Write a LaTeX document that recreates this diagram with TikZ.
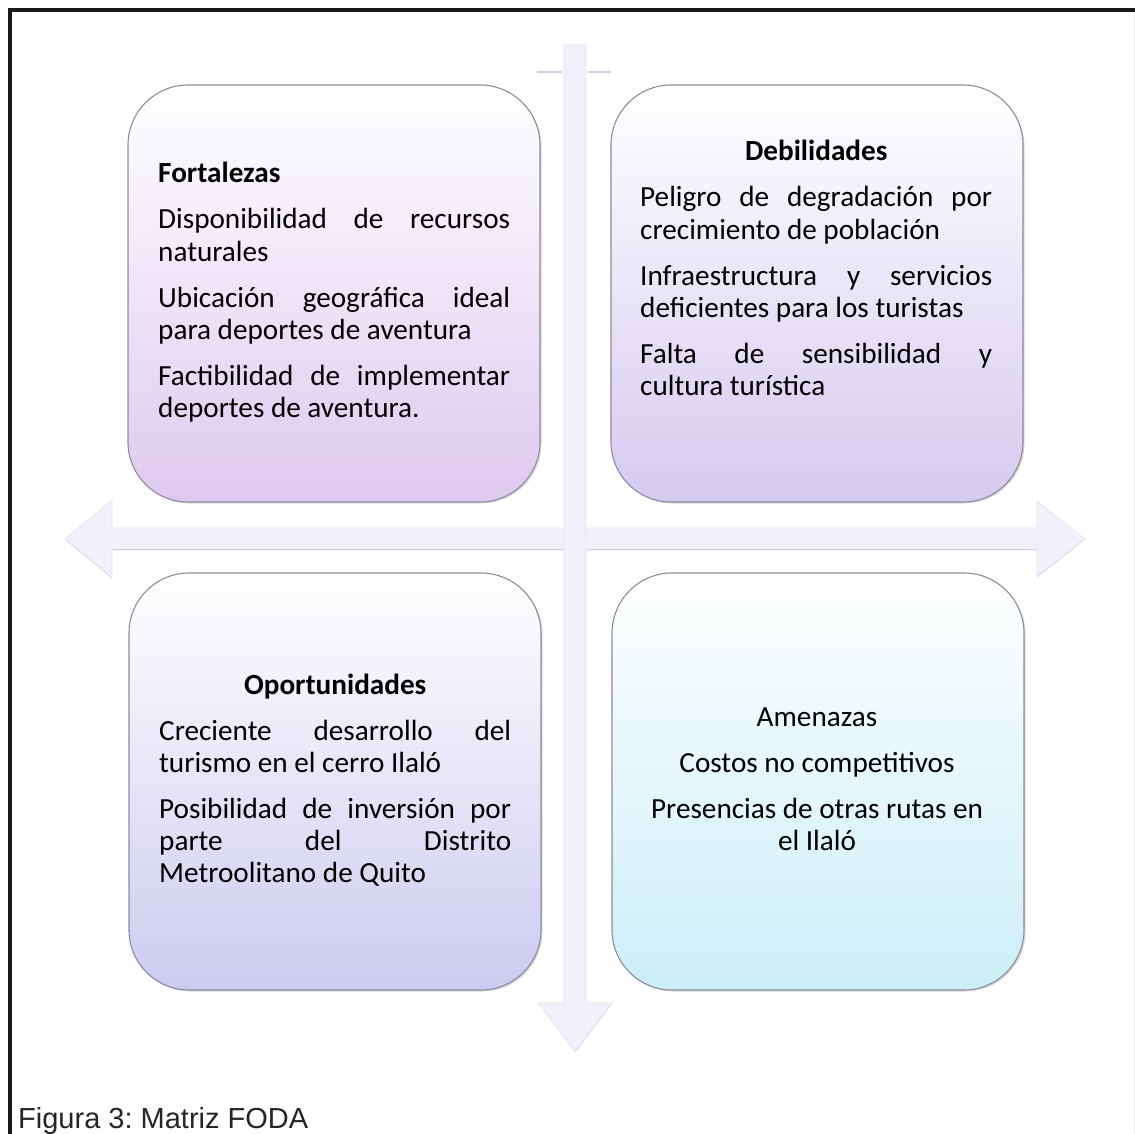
\documentclass[tikz,border=0pt]{standalone}
\usepackage{fontspec}
\setmainfont{Carlito}
\newfontfamily\capfont{Liberation Sans}
\usetikzlibrary{shadows}
\definecolor{arrowfill}{HTML}{F2F0FA}
\definecolor{arrowedge}{HTML}{E6E3F2}
\definecolor{arrowshadow}{HTML}{D2CEE4}
\definecolor{boxline}{HTML}{8C8C9C}
\definecolor{fbot}{HTML}{DEC9F0}
\definecolor{dbot}{HTML}{D5CAF0}
\definecolor{obot}{HTML}{CDCBF0}
\definecolor{abot}{HTML}{CBEEF8}
\newcommand\bsetup{\setlength{\parskip}{13.7pt}\hyphenpenalty=10000 \tolerance=10000 }
\frenchspacing
\begin{document}
\begin{tikzpicture}[x=1pt,y=-1pt,
  quad/.style={draw=boxline, line width=1.1pt, rounded corners=60pt,
    minimum width=412pt, minimum height=417pt, inner sep=0pt,
    drop shadow={shadow xshift=1.5pt, shadow yshift=-1.5pt, opacity=0.3}},
  body/.style={text width=352pt, inner sep=0pt, anchor=base west,
    font=\fontsize{29.2}{32.3}\selectfont\frenchspacing, align=justify},
  arrowshape/.style={fill=arrowfill, draw=arrowedge, line width=0.6pt, line join=miter}
]
\useasboundingbox (0,0) rectangle (1135,1134);
\fill[white] (0,0) rectangle (1135,1134);

% arrows (background)
\coordinate (ltip) at (65,539);
\coordinate (rtip) at (1085,539);
\coordinate (btip) at (575,1052);
\coordinate (ttop) at (575,45);
\path[arrowshape] (ltip) -- (112,500) -- (112,528) -- (1037,528) -- (1037,501)
  -- (rtip) -- (1037,577) -- (1037,550) -- (112,550) -- (112,578) -- cycle;
\draw[arrowshadow, line width=1.2pt] (112,549.5) -- (1037,549.5);
\draw[arrowedge!70!arrowshadow, line width=1pt] (rtip) -- (1037,577) (ltip) -- (112,578);
\path[arrowshape] (564,45) -- (586,45) -- (586,1003) -- (612,1003) -- (btip)
  -- (538,1003) -- (564,1003) -- cycle;
\draw[arrowedge!70!arrowshadow, line width=1pt] (612,1003) -- (btip);
\draw[arrowshadow, line width=2pt] (537,72) -- (562,72) (588,72) -- (611,72);

% quadrants
\node[quad, top color=white, bottom color=fbot] (F) at (334,293.5) {};
\node[quad, top color=white, bottom color=dbot] (D) at (817,293.5) {};
\node[quad, top color=white, bottom color=obot] (O) at (335,781.5) {};
\node[quad, top color=white, bottom color=abot] (A) at (818,781.5) {};

% texts
\node[body] (Ft) at (158,183) {\bsetup\textbf{Fortalezas}\par
Disponibilidad de recursos\linebreak naturales\par
Ubicación geográfica ideal\linebreak para deportes de aventura\par
Factibilidad de implementar\linebreak deportes de aventura.};

\node[body] (Dt) at (640,161) {\bsetup{\centering\textbf{Debilidades}\par}
Peligro de degradación por\linebreak crecimiento de población\par
Infraestructura y servicios\linebreak deficientes para los turistas\par
Falta de sensibilidad y\linebreak cultura turística};

\node[body] (Ot) at (159,694) {\bsetup{\centering\textbf{Oportunidades}\par}
Creciente desarrollo del\linebreak turismo en el cerro Ilaló\par
Posibilidad de inversión por\linebreak parte del Distrito\linebreak Metroolitano de Quito};

\node[body, anchor=base, align=flush center] (At) at (817,726) {\bsetup Amenazas\par
Costos no competitivos\par
Presencias de otras rutas en\\ el Ilaló};

% frame
\draw[black!90, line width=4pt] (1135,10) -- (10,10) -- (10,1134);
\draw[black!8, line width=1pt] (1134,12) -- (1134,1134);

% caption
\node[anchor=base west, inner sep=0pt, font=\capfont\fontsize{29}{34}\selectfont\frenchspacing, text=black!85] (cap) at (18,1128) {Figura 3: Matriz FODA};
\end{tikzpicture}
\end{document}
